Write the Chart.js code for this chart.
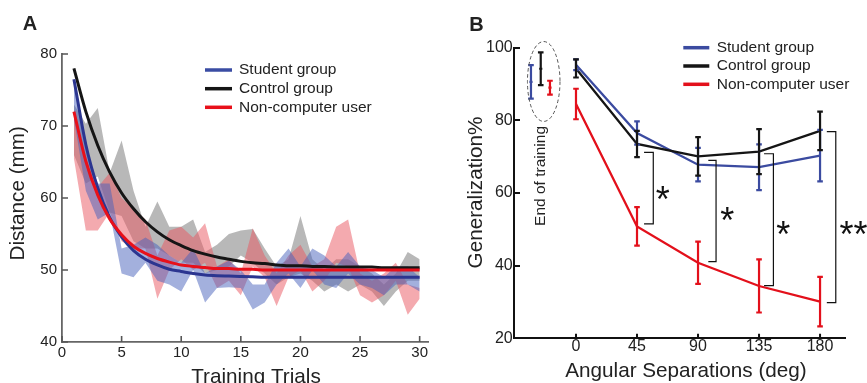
<!DOCTYPE html>
<html><head><meta charset="utf-8">
<script src="https://cdn.jsdelivr.net/npm/chart.js@4.4.1/dist/chart.umd.min.js"></script>
<style>
html,body{margin:0;padding:0;background:#fff;overflow:hidden;}
#wrap{position:relative;width:867px;height:383px;background:#fff;}
canvas{position:absolute;top:0;}
#ca{left:0;} #cb{left:433px;}
</style></head><body>
<div id="wrap"><canvas id="ca" width="433" height="383"></canvas><canvas id="cb" width="434" height="383"></canvas></div>
<script>
// ---------- Panel A data ----------
const trials = [1,2,3,4,5,6,7,8,9,10,11,12,13,14,15,16,17,18,19,20,21,22,23,24,25,26,27,28,29,30];
const xTicksA = [0,5,10,15,20,25,30];
const yTicksA = [40,50,60,70,80];
const studentFit = [76.5,67.4,61.4,57.3,54.6,52.7,51.5,50.7,50.1,49.8,49.5,49.3,49.2,49.15,49.1,49.05,49.0,49.0,49.0,49.0,49.0,49.0,49.0,49.0,49.0,49.0,49.0,49.0,49.0,49.0];
const controlFit = [78.0,72.0,67.3,63.6,60.7,58.5,56.7,55.3,54.2,53.4,52.7,52.2,51.8,51.5,51.2,51.0,50.9,50.7,50.6,50.6,50.5,50.5,50.4,50.4,50.4,50.4,50.3,50.3,50.3,50.3];
const nonFit = [72.0,65.1,60.4,57.1,54.9,53.3,52.3,51.6,51.1,50.7,50.5,50.35,50.2,50.2,50.1,50.1,50.0,50.0,50.0,50.0,50.0,50.0,50.0,50.0,50.0,50.0,50.0,50.0,50.0,50.0];
const studentUpper = [76,67,62,62,53,53.5,54.5,53.5,52,51,53,49.5,50.5,51.3,50,48,48,51,53,50.5,53,52,50.5,52.5,50.5,50,49,50.5,50.5,49];
const studentLower = [71,61,57,58,49.5,49,51,48.5,48,47,50,45.5,47.5,47.6,47.5,44.5,45.5,48,49.5,47.5,50,48,47.5,49.5,48,47.5,46.5,48,48,47];
const controlUpper = [73,70.3,72.5,63.5,68,61,56,59.5,56,56,57,52.5,53.5,55,55.5,55.7,53,50.5,51.5,57.5,51.5,50,51.5,51.5,50.5,49.5,48,49.5,52.5,51.5];
const controlLower = [66,62,63,58,57.5,54,53,53,52,51,51,49.5,50,50.5,52,51,49.5,48,49,49.5,48.5,47,48,47,48,47,45,47,48.5,48.5];
const nonUpper = [72,65,61.5,63.5,60,58.5,57,52,55.5,56,54.5,56.5,50.5,51.5,49.5,55.8,52,49.5,52,53.5,50.5,51.5,56,57,49.5,48.5,49.5,51,48,47.5];
const nonLower = [65.5,55.5,55.5,58,54,53,53,46,50,51.5,50,51,47.5,48.5,46.5,50.5,49,45,49,50,47,48.5,51,50.5,46.5,45.5,46.5,48.5,43.8,46];

// ---------- Panel B data ----------
const angles = [0,45,90,135,180];
const xTicksB = [0,45,90,135,180];
const yTicksB = [20,40,60,80,100];
const studentMean = [95.3,76.5,67.8,67.1,70.3];
const studentErr = [1.5,3.2,4.6,6.3,7.1];
const controlMean = [94.3,73.5,70.1,71.4,77.1];
const controlErr = [2.5,3.6,5.3,6.2,5.3];
const nonMean = [84.5,50.8,40.8,34.4,30.1];
const nonErr = [4.2,5.3,5.8,7.3,6.8];
// end of training (student, control, non-computer)
const endX = [-33.2,-26.0,-19.2];
const endMean = [90.6,94.2,89.0];
const endErr = [4.6,4.5,1.9];
// significance brackets: [armX, lineX, topY, bottomY]
const brackets = [[50.2,57.0,71.2,51.5],[97.6,103.3,69.0,41.1],[138.7,145.6,70.8,34.5],[185.0,191.6,76.9,29.8]];
const stars = [[64.0,60.4,'*'],[111.6,54.8,'*'],[152.9,50.8,'*'],[204.6,50.8,'**']];

const labels = ['Student group','Control group','Non-computer user'];

const FONT = '"Liberation Sans", Arial, Helvetica, sans-serif';
Chart.defaults.font.family = FONT;
Chart.defaults.color = '#222';

const BLUE_A = '#2b3590', BLUE_LEG = '#3a4ca3', BLACK = '#151515', RED = '#e8101a';
const BLUE_B = '#3b4ba0', RED_B = '#e3101b';

function xy(xs, ys){ return xs.map((x,i)=>({x:x, y:ys[i]})); }
function txt(ctx, s, x, y, font, align, base, rot, color){
  ctx.save(); ctx.translate(x,y); if(rot) ctx.rotate(rot);
  ctx.font = font; ctx.fillStyle = color || '#222'; ctx.textAlign = align; ctx.textBaseline = base;
  ctx.fillText(s,0,0); ctx.restore();
}
function legend(ctx, x1, x2, tx, rows, colors){
  ctx.save();
  for (let i=0;i<3;i++){
    ctx.strokeStyle = colors[i]; ctx.lineWidth = 3.5; ctx.lineCap='butt';
    ctx.beginPath(); ctx.moveTo(x1, rows[i]); ctx.lineTo(x2, rows[i]); ctx.stroke();
    txt(ctx, labels[i], tx, rows[i], '15.5px '+FONT, 'left', 'middle', 0, '#222');
  }
  ctx.restore();
}
function inwardTicks(ctx, chart, lenY, lenX, color, lw){
  const xs = chart.scales.x, ys = chart.scales.y, a = chart.chartArea;
  ctx.save(); ctx.strokeStyle = color; ctx.lineWidth = lw; ctx.beginPath();
  ys.ticks.forEach(t=>{ const p = Math.round(ys.getPixelForValue(t.value))+0.5*0; ctx.moveTo(a.left, p); ctx.lineTo(a.left+lenY, p); });
  xs.ticks.forEach(t=>{ const p = xs.getPixelForValue(t.value); ctx.moveTo(p, a.bottom); ctx.lineTo(p, a.bottom-lenX); });
  ctx.stroke(); ctx.restore();
}

const bandDs = (data, color, fill) => ({data: xy(trials, data), borderWidth:0, pointRadius:0, fill: fill ? '+1' : false, backgroundColor: color, borderColor:'rgba(0,0,0,0)', tension:0});
const fitDs = (data, color) => ({data: xy(trials, data), borderColor: color, borderWidth:3, pointRadius:0, fill:false, cubicInterpolationMode:'monotone'});

const annotA = {
  id:'annotA',
  afterDraw(chart){
    const ctx = chart.ctx;
    inwardTicks(ctx, chart, 6, 6, '#555', 1.6);
    txt(ctx, 'A', 22.7, 30.3, 'bold 20px '+FONT, 'left', 'alphabetic');
    txt(ctx, 'Distance (mm)', 18.5, 193.3, '20.7px '+FONT, 'center', 'middle', -Math.PI/2);
    txt(ctx, 'Training Trials', 256, 382.6, '20.7px '+FONT, 'center', 'alphabetic');
    legend(ctx, 205, 232, 239, [70, 88.7, 107.3], [BLUE_LEG, BLACK, RED]);
  }
};

new Chart(document.getElementById('ca'), {
  type:'line',
  data:{datasets:[
    fitDs(nonFit, RED),
    fitDs(studentFit, BLUE_A),
    fitDs(controlFit, BLACK),
    bandDs(studentUpper, 'rgba(71,97,187,0.5)', true),
    bandDs(studentLower, 'rgba(0,0,0,0)', false),
    bandDs(nonUpper, 'rgba(233,85,95,0.5)', true),
    bandDs(nonLower, 'rgba(0,0,0,0)', false),
    bandDs(controlUpper, 'rgba(128,128,128,0.56)', true),
    bandDs(controlLower, 'rgba(0,0,0,0)', false)
  ]},
  options:{
    responsive:false, animation:false, events:[],
    layout:{padding:{top:54, right:5, left:0, bottom:0}},
    plugins:{legend:{display:false}, tooltip:{enabled:false}},
    scales:{
      x:{type:'linear', min:0, max:30.7,
         afterBuildTicks: s=>{ s.ticks = xTicksA.map(v=>({value:v})); },
         afterFit: s=>{ s.height = 41; s.paddingLeft = 0; s.paddingRight = 0; },
         grid:{display:false, drawTicks:false},
         border:{display:true, color:'#666', width:1.8},
         ticks:{padding:3, font:{size:15, lineHeight:1}, color:'#222', maxRotation:0, autoSkip:false}},
      y:{type:'linear', min:40, max:80,
         afterBuildTicks: s=>{ s.ticks = yTicksA.map(v=>({value:v})); },
         afterFit: s=>{ s.width = 62; s.paddingTop = 0; s.paddingBottom = 0; },
         grid:{display:false, drawTicks:false},
         border:{display:true, color:'#666', width:1.8},
         ticks:{padding:5, font:{size:15, lineHeight:1}, color:'#222', autoSkip:false}}
    }
  },
  plugins:[annotA]
});

// ---------- Panel B ----------
function ebar(ctx, xs, ys, x, m, e, color, cap, lw, mid){
  const px = xs.getPixelForValue(x), top = ys.getPixelForValue(m+e), bot = ys.getPixelForValue(m-e);
  ctx.strokeStyle = color; ctx.lineWidth = lw; ctx.lineCap='butt';
  ctx.beginPath();
  ctx.moveTo(px, top); ctx.lineTo(px, bot);
  ctx.moveTo(px-cap, top); ctx.lineTo(px+cap, top);
  ctx.moveTo(px-cap, bot); ctx.lineTo(px+cap, bot);
  if (mid){ const pm = ys.getPixelForValue(m); ctx.moveTo(px-mid, pm); ctx.lineTo(px+mid, pm); }
  ctx.stroke();
}

const annotB = {
  id:'annotB',
  afterDatasetsDraw(chart){
    const ctx = chart.ctx, xs = chart.scales.x, ys = chart.scales.y;
    ctx.save();
    const series = [[studentMean, studentErr, BLUE_B],[nonMean, nonErr, RED_B],[controlMean, controlErr, BLACK]];
    series.forEach(s=>{ angles.forEach((a,i)=> ebar(ctx, xs, ys, a, s[0][i], s[1][i], s[2], 2.8, 2.2, 0)); });
    const endColors = [BLUE_B, BLACK, RED_B];
    endX.forEach((x,i)=> ebar(ctx, xs, ys, x, endMean[i], endErr[i], endColors[i], 2.8, 2.2, 1.6));
    // dashed ellipse
    const cx = xs.getPixelForValue(-23.8), cy = ys.getPixelForValue(90.7);
    const rx = xs.getPixelForValue(-23.8+12.0) - cx, ry = cy - ys.getPixelForValue(90.7+11.0);
    ctx.strokeStyle = '#555'; ctx.lineWidth = 1; ctx.setLineDash([3.5,2.5]);
    ctx.beginPath(); ctx.ellipse(cx, cy, rx, ry, 0, 0, Math.PI*2); ctx.stroke();
    ctx.setLineDash([]);
    // brackets
    ctx.strokeStyle = '#111'; ctx.lineWidth = 1.2;
    brackets.forEach(b=>{
      const x1 = xs.getPixelForValue(b[0]), x2 = xs.getPixelForValue(b[1]);
      const t = ys.getPixelForValue(b[2]), bo = ys.getPixelForValue(b[3]);
      ctx.beginPath(); ctx.moveTo(x1,t); ctx.lineTo(x2,t); ctx.lineTo(x2,bo); ctx.lineTo(x1,bo); ctx.stroke();
    });
    stars.forEach(s=>{
      txt(ctx, s[2], xs.getPixelForValue(s[0]), ys.getPixelForValue(s[1]) + 20.7, '36px '+FONT, 'center', 'alphabetic', 0, '#111');
    });
    txt(ctx, 'End of training', xs.getPixelForValue(-26.0), ys.getPixelForValue(64.7), '15.5px '+FONT, 'center', 'middle', -Math.PI/2, '#222');
    ctx.restore();
  },
  afterDraw(chart){
    const ctx = chart.ctx;
    inwardTicks(ctx, chart, 5.7, 4.5, '#111', 2);
    txt(ctx, 'B', 36.3, 30.5, 'bold 20px '+FONT, 'left', 'alphabetic');
    txt(ctx, 'Generalization%', 43.5, 192.5, '20.7px '+FONT, 'center', 'middle', -Math.PI/2);
    txt(ctx, 'Angular Separations (deg)', 253, 376.5, '20.7px '+FONT, 'center', 'alphabetic');
    legend(ctx, 250.3, 276.3, 283.7, [47.7, 66, 84.3], [BLUE_B, BLACK, RED_B]);
  }
};

const lineDs = (ys, color) => ({data: xy(angles, ys), borderColor: color, borderWidth:2.3, pointRadius:0, fill:false, tension:0});

new Chart(document.getElementById('cb'), {
  type:'line',
  data:{datasets:[
    lineDs(controlMean, BLACK),
    lineDs(nonMean, RED_B),
    lineDs(studentMean, BLUE_B)
  ]},
  options:{
    responsive:false, animation:false, events:[],
    layout:{padding:{top:47.7, right:22, left:0, bottom:0}},
    plugins:{legend:{display:false}, tooltip:{enabled:false}},
    scales:{
      x:{type:'linear', min:-45.5, max:198.4,
         afterBuildTicks: s=>{ s.ticks = xTicksB.map(v=>({value:v})); },
         afterFit: s=>{ s.height = 44.7; s.paddingLeft = 0; s.paddingRight = 0; },
         grid:{display:false, drawTicks:false},
         border:{display:true, color:'#111', width:2},
         ticks:{padding:0.7, font:{size:16, lineHeight:1}, color:'#222', maxRotation:0, autoSkip:false}},
      y:{type:'linear', min:20, max:100,
         afterBuildTicks: s=>{ s.ticks = yTicksB.map(v=>({value:v})); },
         afterFit: s=>{ s.width = 81.3; s.paddingTop = 0; s.paddingBottom = 0; },
         grid:{display:false, drawTicks:false},
         border:{display:true, color:'#111', width:2},
         ticks:{padding:1.6, font:{size:16, lineHeight:1}, color:'#222', autoSkip:false}}
    }
  },
  plugins:[annotB]
});
</script>
</body></html>
